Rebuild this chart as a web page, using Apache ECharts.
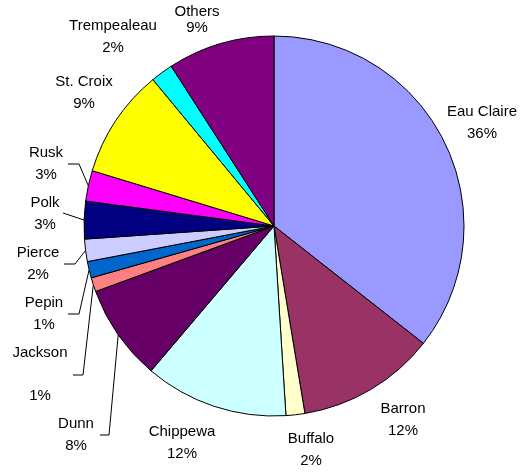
<!DOCTYPE html>
<html>
<head>
<meta charset="utf-8">
<script src="https://cdn.jsdelivr.net/npm/echarts@6/dist/echarts.min.js"></script>
<style>
  html, body { margin: 0; padding: 0; background: #fff; }
  #main { width: 520px; height: 472px; }
</style>
</head>
<body>
<div id="main"></div>
<script>
// data, clockwise from 12 o'clock
const counties = ["Eau Claire", "Barron", "Buffalo", "Chippewa", "Dunn", "Jackson", "Pepin",
  "Pierce", "Polk", "Rusk", "St. Croix", "Trempealeau", "Others"];
const shares = [35.6, 11.8, 1.6, 12.2, 8.2, 1.2, 1.4, 1.9, 3.2, 2.6, 9.3, 1.9, 9.1];

const colors = ["#9999ff", "#993366", "#ffffcc", "#ccffff", "#660066", "#ff8080", "#0066cc",
  "#ccccff", "#000080", "#ff00ff", "#ffff00", "#00ffff", "#800080"];

// label block centres (px)
const labelPos = [
  [482, 123], [403, 420], [311, 450], [182, 443], [76, 435], [40, 374], [44, 314],
  [38, 264], [45, 214], [46, 164], [84, 93], [113, 37], [197, 20]
];
// leader line: [endX, endY, kneeX, kneeY], null = no line
const leaders = [
  null, null, null, null,
  [100, 435, 109, 435],
  [73, 375, 83, 375],
  [68, 314, 79, 314],
  [64, 264, 75, 264],
  [63, 213, 63, 213],
  [68, 164, 79, 164],
  null, null, null
];

const chart = echarts.init(document.getElementById("main"));

const data = counties.map((name, i) => ({
  name: name,
  value: shares[i],
  itemStyle: { color: colors[i] },
  labelLine: { show: leaders[i] !== null },
  label: name === "Others" ? { lineHeight: 16 } : {}
}));

chart.setOption({
  animation: false,
  series: [
    {
      type: "pie",
      center: [274, 226],
      radius: 190,
      startAngle: 90,
      clockwise: true,
      avoidLabelOverlap: false,
      percentPrecision: 0,
      data: data,
      itemStyle: { borderColor: "#000", borderWidth: 1 },
      emphasis: { disabled: true },
      label: {
        show: true,
        position: "outside",
        color: "#000",
        fontFamily: "Liberation Sans, Arial, sans-serif",
        fontSize: 15,
        lineHeight: 21.5,
        align: "center",
        formatter: function (p) {
          return p.name === "Jackson" ? p.name + "\n\n" + p.percent + "%" : p.name + "\n" + p.percent + "%";
        }
      },
      labelLine: {
        show: true,
        length: 10,
        length2: 10,
        lineStyle: { color: "#000", width: 1 }
      },
      labelLayout: function (params) {
        const i = params.dataIndex;
        const p = labelPos[i];
        const res = { x: p[0], y: p[1], align: "center", verticalAlign: "middle" };
        const l = leaders[i];
        if (l && params.labelLinePoints) {
          res.labelLinePoints = [params.labelLinePoints[0], [l[2], l[3]], [l[0], l[1]]];
        }
        return res;
      }
    }
  ]
});
</script>
</body>
</html>
